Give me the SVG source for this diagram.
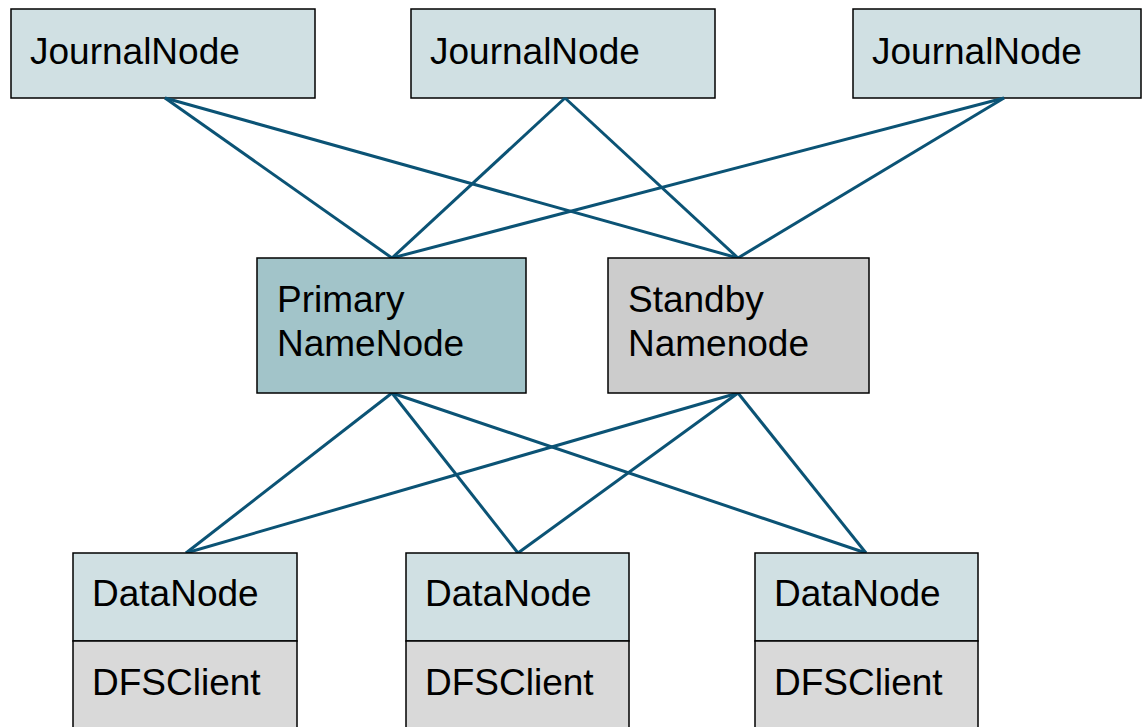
<svg xmlns="http://www.w3.org/2000/svg" width="1146" height="727" viewBox="0 0 1146 727">
<style>
.box{stroke:#000;stroke-width:1.5}
.jn{fill:#d0e0e3}
.pn{fill:#a2c4c9}
.sn{fill:#cccccc}
.cl{fill:#d9d9d9}
.t{font-family:"Liberation Sans",Arial,sans-serif;font-size:37px;fill:#000}
.c line{stroke:#0b5375;stroke-width:3}
</style>
<rect width="1146" height="727" fill="#fff"/>
<g id="journal1"><rect class="box jn" x="11" y="9" width="304" height="89"/><text class="t" x="30" y="64">JournalNode</text></g>
<g id="journal2"><rect class="box jn" x="411" y="9" width="304" height="89"/><text class="t" x="430" y="64">JournalNode</text></g>
<g id="journal3"><rect class="box jn" x="853" y="9" width="288" height="89"/><text class="t" x="872" y="64">JournalNode</text></g>
<g class="c" id="connectors">
<line x1="165" y1="98" x2="392" y2="258"/>
<line x1="165" y1="98" x2="738" y2="258"/>
<line x1="565" y1="98" x2="392" y2="258"/>
<line x1="565" y1="98" x2="738" y2="258"/>
<line x1="1004" y1="98" x2="392" y2="258"/>
<line x1="1004" y1="98" x2="738" y2="258"/>
<line x1="392" y1="393" x2="186" y2="553"/>
<line x1="392" y1="393" x2="518" y2="553"/>
<line x1="392" y1="393" x2="866" y2="553"/>
<line x1="738" y1="393" x2="186" y2="553"/>
<line x1="738" y1="393" x2="518" y2="553"/>
<line x1="738" y1="393" x2="866" y2="553"/>
</g>
<g id="primary"><rect class="box pn" x="257" y="258" width="269" height="135"/><text class="t" x="277" y="312">Primary</text><text class="t" x="277" y="356">NameNode</text></g>
<g id="standby"><rect class="box sn" x="608" y="258" width="261" height="135"/><text class="t" x="628" y="312">Standby</text><text class="t" x="628" y="356">Namenode</text></g>
<g id="datanode1"><rect class="box jn" x="73" y="553" width="224" height="88"/><rect class="box cl" x="73" y="641" width="224" height="90"/><text class="t" x="92" y="606">DataNode</text><text class="t" x="92" y="695">DFSClient</text></g>
<g id="datanode2"><rect class="box jn" x="406" y="553" width="223" height="88"/><rect class="box cl" x="406" y="641" width="223" height="90"/><text class="t" x="425" y="606">DataNode</text><text class="t" x="425" y="695">DFSClient</text></g>
<g id="datanode3"><rect class="box jn" x="755" y="553" width="223" height="88"/><rect class="box cl" x="755" y="641" width="223" height="90"/><text class="t" x="774" y="606">DataNode</text><text class="t" x="774" y="695">DFSClient</text></g>
</svg>
